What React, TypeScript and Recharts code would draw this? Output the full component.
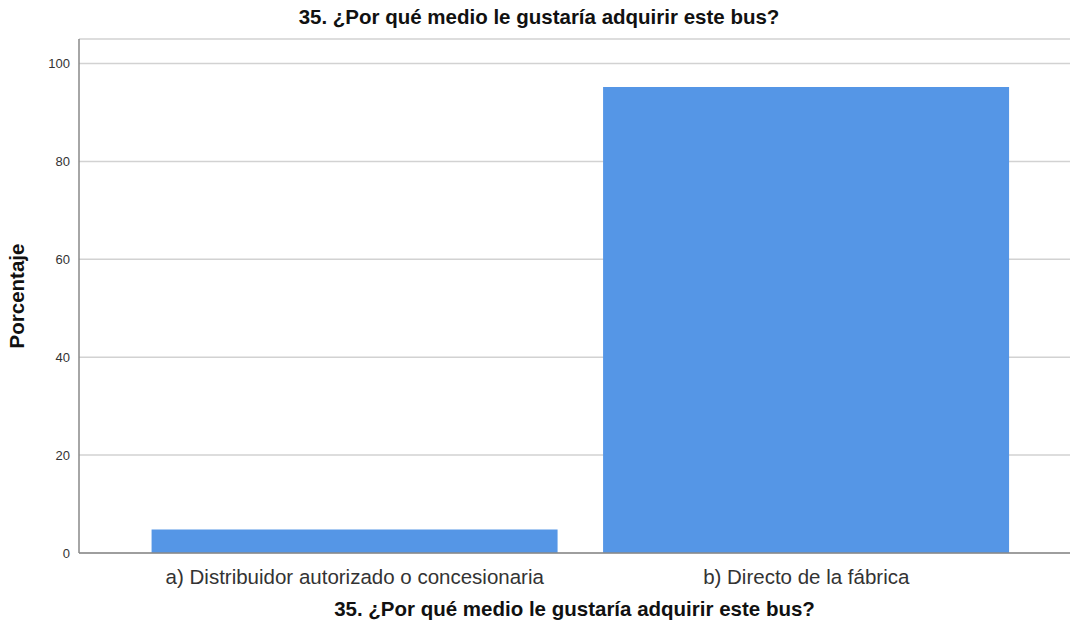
import { BarChart, Bar, XAxis, YAxis, CartesianGrid, Label } from 'recharts';

const TITLE = '35. ¿Por qué medio le gustaría adquirir este bus?';
const categories = ['a) Distribuidor autorizado o concesionaria', 'b) Directo de la fábrica'];
const percentages = [4.8, 95.2];
const yTicks = [0, 20, 40, 60, 80, 100];

const BAR_COLOR = '#5596e6';
const FONT = '"Liberation Sans", Arial, sans-serif';

const data = categories.map((name, i) => ({ name, value: percentages[i] }));

export default function App() {
  return (
    <div style={{ position: 'fixed', left: 0, top: 0, width: 1070, height: 626, background: '#fff', fontFamily: FONT }}>
      <div
        style={{
          position: 'absolute',
          top: 5,
          left: 4,
          width: 1070,
          textAlign: 'center',
          fontSize: 20.5,
          lineHeight: '24px',
          fontWeight: 'bold',
          color: '#111',
        }}
      >
        {TITLE}
      </div>
      <BarChart
        width={1070}
        height={626}
        data={data}
        margin={{ top: 39, right: 0, bottom: 0, left: 0 }}
        barCategoryGap="5%"
      >
        <CartesianGrid vertical={false} stroke="#d2d2d2" strokeWidth={1.5} />
        <XAxis
          dataKey="name"
          padding={{ left: 50, right: 38 }}
          axisLine={{ stroke: '#888', strokeWidth: 1.5 }}
          tickLine={false}
          tick={{ fill: '#333', fontSize: 20.5, fontFamily: FONT }}
          tickMargin={10}
          height={73}
        >
          <Label
            value={TITLE}
            position="insideBottom"
            offset={10}
            style={{ fontWeight: 'bold', fontSize: 20.5, fill: '#111', fontFamily: FONT }}
          />
        </XAxis>
        <YAxis
          domain={[0, 105]}
          ticks={yTicks}
          width={79}
          axisLine={{ stroke: '#888', strokeWidth: 1.5 }}
          tickLine={false}
          tick={{ fill: '#333', fontSize: 13, fontFamily: FONT }}
          tickMargin={3}
        >
          <Label
            value="Porcentaje"
            angle={-90}
            position="insideLeft"
            offset={17}
            style={{ textAnchor: 'middle', fontWeight: 'bold', fontSize: 20.5, fill: '#111', fontFamily: FONT }}
          />
        </YAxis>
        <Bar dataKey="value" fill={BAR_COLOR} isAnimationActive={false} />
      </BarChart>
    </div>
  );
}
